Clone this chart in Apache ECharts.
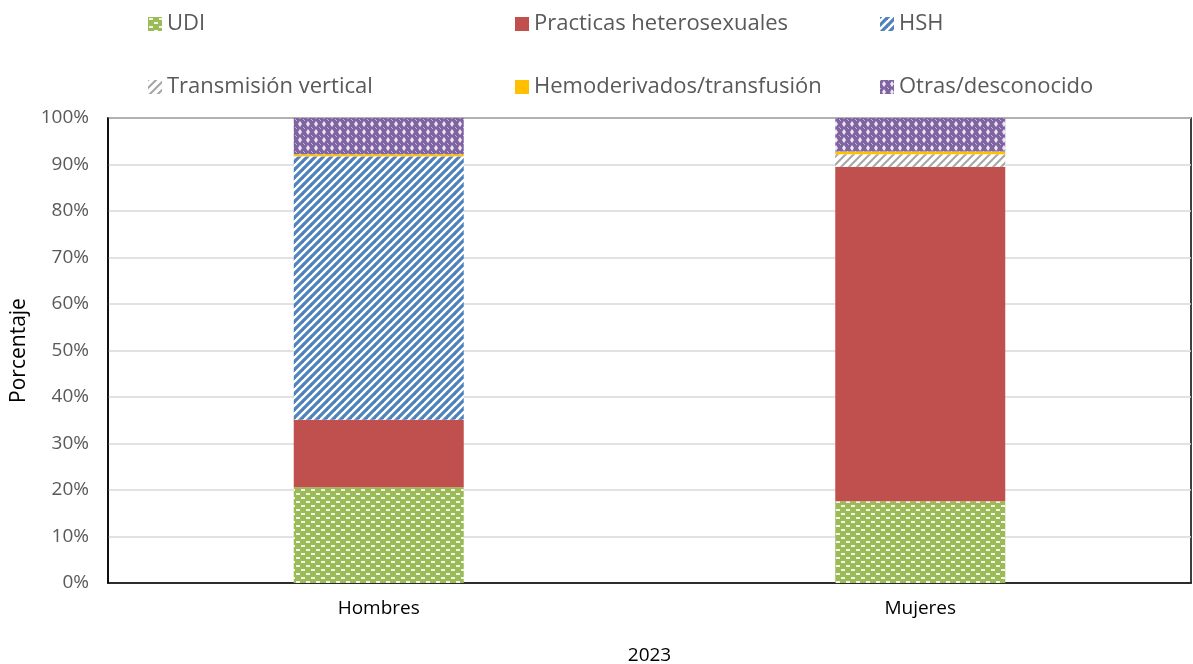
<!DOCTYPE html>
<html><head><meta charset="utf-8">
<script src="https://cdn.jsdelivr.net/npm/echarts@6/dist/echarts.min.js"></script>
<style>html,body{margin:0;padding:0;background:#fff}#c{width:1193px;height:664px}</style>
</head><body><div id="c"></div>
<script>
const categories = ['Hombres', 'Mujeres'];
const seriesNames = ['UDI', 'Practicas heterosexuales', 'HSH', 'Transmisión vertical', 'Hemoderivados/transfusión', 'Otras/desconocido'];
const udi = [20.6, 17.6];
const hetero = [14.5, 71.9];
const hsh = [56.6, 0];
const vertical = [0.1, 2.7];
const hemo = [0.4, 0.6];
const otras = [7.8, 7.2];
const yTicks = [0, 10, 20, 30, 40, 50, 60, 70, 80, 90, 100];

function tile(w, h, draw) {
  const c = document.createElement('canvas'); c.width = w; c.height = h;
  const g = c.getContext('2d'); draw(g, w, h); return c;
}
function stripes(fg, bg, lw) {
  return tile(8, 8, (g, w, h) => {
    g.fillStyle = bg; g.fillRect(0, 0, w, h);
    g.strokeStyle = fg; g.lineWidth = lw;
    for (let k = -1; k <= 1; k++) {
      g.beginPath(); g.moveTo(k * 8 - 1, 9); g.lineTo(k * 8 + 9, -1); g.stroke();
    }
  });
}
const patUDI = tile(10, 8, (g) => {
  g.fillStyle = '#9BBB59'; g.fillRect(0, 0, 10, 8);
  g.fillStyle = 'rgba(255,255,255,0.85)';
  g.fillRect(1, 1, 4, 2); g.fillRect(6, 5, 4, 2);
});
const patHSH = stripes('#4F81BD', '#ffffff', 3.2);
const patTV = stripes('#A5A5A5', '#ffffff', 2);
const patOtras = tile(8, 8, (g) => {
  g.fillStyle = '#8064A2'; g.fillRect(0, 0, 8, 8);
  g.fillStyle = 'rgba(255,255,255,0.85)';
  g.beginPath(); g.moveTo(4, 1); g.lineTo(6, 4); g.lineTo(4, 7); g.lineTo(2, 4); g.closePath(); g.fill();
  g.fillStyle = 'rgba(230,220,240,0.7)';
  g.fillRect(0, 0, 1, 1); g.fillRect(7, 7, 1, 1);
});
const colors = [
  { image: patUDI, repeat: 'repeat' },
  '#C0504D',
  { image: patHSH, repeat: 'repeat' },
  { image: patTV, repeat: 'repeat' },
  '#FFC000',
  { image: patOtras, repeat: 'repeat' }
];
const dataArr = [udi, hetero, hsh, vertical, hemo, otras];

const FONT = 'Open Sans, Noto Sans, sans-serif';
const legendPos = [[146, 11], [513, 11], [878, 11], [146, 74], [513, 74], [878, 74]];
const legends = seriesNames.map((n, i) => ({
  data: [n], left: legendPos[i][0], top: legendPos[i][1],
  itemWidth: 14, itemHeight: 14, itemGap: 6, padding: 2,
  icon: 'rect',
  textStyle: { fontFamily: FONT, fontSize: 22, color: '#595959' }
}));

const chart = echarts.init(document.getElementById('c'));
chart.setOption({
  animation: false,
  legend: legends,
  grid: { left: 108, right: 2, top: 118, bottom: 81, show: true, borderColor: '#000', borderWidth: 1.5, containLabel: false, outerBoundsMode: 'none' },
  xAxis: {
    type: 'category', data: categories,
    name: '2023', nameLocation: 'middle', nameGap: 63,
    nameTextStyle: { fontFamily: FONT, fontSize: 19, color: '#000' },
    axisLine: { lineStyle: { color: '#000', width: 1.5 } },
    axisTick: { show: false },
    axisLabel: { fontFamily: FONT, fontSize: 19, color: '#000', margin: 16 }
  },
  yAxis: {
    type: 'value', min: 0, max: 100, interval: 10,
    name: 'Porcentaje', nameLocation: 'middle', nameGap: 78, nameRotate: 90,
    nameTextStyle: { fontFamily: FONT, fontSize: 21, color: '#000' },
    axisLine: { show: true, lineStyle: { color: '#000', width: 1.5 } },
    axisTick: { show: false },
    splitLine: { lineStyle: { color: '#D9D9D9', width: 1.5 } },
    axisLabel: {
      fontFamily: FONT, fontSize: 19, color: '#595959', margin: 19,
      formatter: v => yTicks.includes(v) ? v + '%' : ''
    }
  },
  series: seriesNames.map((n, i) => ({
    name: n, type: 'bar', stack: 'total', barWidth: 170,
    itemStyle: { color: colors[i] },
    data: dataArr[i]
  }))
});
</script></body></html>
